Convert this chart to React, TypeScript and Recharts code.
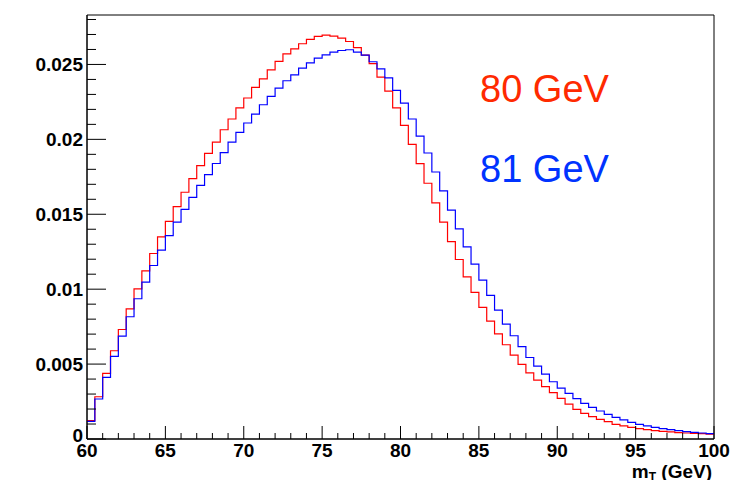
import { LineChart, Line, XAxis, YAxis, ReferenceArea } from 'recharts';

// 80 bins of 0.5 GeV between 60 and 100
const binWidth = 0.5;
const binLow = Array.from({ length: 80 }, (_, i) => 60 + i * binWidth);

const red80 = [
  0.00122, 0.00282, 0.00438, 0.00589, 0.00731, 0.00869, 0.01002, 0.01122, 0.01238, 0.01349,
  0.01453, 0.01551, 0.01647, 0.01738, 0.01824, 0.01906, 0.01982, 0.02064, 0.02136, 0.0221,
  0.02276, 0.02347, 0.02404, 0.02464, 0.0252, 0.02571, 0.02604, 0.02638, 0.02667, 0.02687,
  0.02696, 0.02689, 0.02676, 0.02653, 0.02612, 0.02562, 0.02505, 0.02416, 0.02322, 0.0221,
  0.02093, 0.01967, 0.01838, 0.01707, 0.01576, 0.01447, 0.01318, 0.01198, 0.01082, 0.00978,
  0.00878, 0.00787, 0.00702, 0.00629, 0.0056, 0.00498, 0.00442, 0.00393, 0.00349, 0.0031,
  0.00271, 0.00233, 0.00198, 0.00171, 0.00149, 0.00131, 0.00116, 0.00098, 0.00087, 0.00078,
  0.00069, 0.00062, 0.00056, 0.00051, 0.00047, 0.00042, 0.0004, 0.00038, 0.00036, 0.00033,
];

const blue81 = [
  0.00118, 0.00267, 0.00411, 0.00551, 0.00687, 0.00816, 0.00936, 0.01047, 0.01158, 0.0126,
  0.01358, 0.01447, 0.01533, 0.01613, 0.01693, 0.01765, 0.01839, 0.01911, 0.01982, 0.02046,
  0.02109, 0.02169, 0.02231, 0.02287, 0.02342, 0.02391, 0.02431, 0.02476, 0.02511, 0.02542,
  0.02564, 0.02582, 0.02593, 0.02598, 0.02582, 0.02562, 0.02518, 0.02471, 0.0241, 0.02327,
  0.02242, 0.02136, 0.02022, 0.01909, 0.01782, 0.01656, 0.01527, 0.01402, 0.01282, 0.01167,
  0.0106, 0.00958, 0.0086, 0.00767, 0.00689, 0.00616, 0.00544, 0.00487, 0.00433, 0.00382,
  0.0034, 0.00304, 0.00269, 0.00238, 0.00211, 0.00187, 0.00165, 0.00145, 0.00127, 0.00111,
  0.00098, 0.00087, 0.00078, 0.00069, 0.00062, 0.00056, 0.00049, 0.00044, 0.0004, 0.00036,
];

const xTicks = Array.from({ length: 41 }, (_, i) => 60 + i);
const yTicks = Array.from({ length: 29 }, (_, i) => i * 0.001);
const yMax = 0.0283;

const legend = [
  { label: '80 GeV', color: '#ff2a00' },
  { label: '81 GeV', color: '#0033ff' },
];

const font = '"Liberation Sans", Arial, Helvetica, sans-serif';

// last bin needs a closing point so the step reaches 100
const data = binLow.map((x, i) => ({ x, red: red80[i], blue: blue81[i] }));
data.push({ x: binLow[binLow.length - 1] + binWidth, red: red80[red80.length - 1], blue: blue81[blue81.length - 1] });

function XTick(props: any) {
  const { x, y, payload } = props;
  const v = payload.value;
  const major = v % 5 === 0;
  return (
    <g>
      <line x1={x} x2={x} y1={y} y2={y - (major ? 13 : 6)} stroke="#000" strokeWidth={1} />
      {major && (
        <text x={x} y={y + 18} textAnchor="middle" fontFamily={font} fontWeight="bold" fontSize={19} fill="#000">
          {v}
        </text>
      )}
    </g>
  );
}

function YTick(props: any) {
  const { x, y, payload } = props;
  const n = Math.round(payload.value * 1000);
  const major = n % 5 === 0;
  return (
    <g>
      <line x1={x} x2={x + (major ? 19 : 9)} y1={y} y2={y} stroke="#000" strokeWidth={1} />
      {major && (
        <text x={x - 4} y={y + (n === 0 ? 3 : 7)} textAnchor="end" fontFamily={font} fontWeight="bold" fontSize={19} fill="#000">
          {parseFloat(payload.value.toFixed(3)).toString()}
        </text>
      )}
    </g>
  );
}

export default function App() {
  return (
    <div style={{ position: 'relative', width: 754, height: 480, background: '#fff' }}>
      <style>{'body{margin:0}'}</style>
      <LineChart width={754} height={480} data={data} margin={{ top: 15, right: 40, left: 0, bottom: 11 }}>
        <XAxis
          dataKey="x"
          type="number"
          domain={[60, 100]}
          ticks={xTicks}
          interval={0}
          tickSize={0}
          tickMargin={0}
          tickLine={false}
          tick={<XTick />}
          height={30}
          axisLine={{ stroke: '#000', strokeWidth: 1 }}
          allowDataOverflow
        />
        <YAxis
          type="number"
          domain={[0, yMax]}
          ticks={yTicks}
          interval={0}
          tickSize={0}
          tickMargin={0}
          tickLine={false}
          tick={<YTick />}
          width={87}
          axisLine={{ stroke: '#000', strokeWidth: 1 }}
          allowDataOverflow
        />
        <ReferenceArea x1={60} x2={100} y1={0} y2={yMax} fill="none" stroke="#000" strokeWidth={1} ifOverflow="visible" />
        <Line type="stepAfter" dataKey="red" stroke="#ff0000" strokeWidth={1.2} dot={false} isAnimationActive={false} />
        <Line type="stepAfter" dataKey="blue" stroke="#0000ff" strokeWidth={1.2} dot={false} isAnimationActive={false} />
      </LineChart>
      <svg width={754} height={480} style={{ position: 'absolute', left: 0, top: 0, pointerEvents: 'none' }}>
        {legend.map((l, i) => (
          <text key={l.label} x={480} y={102 + i * 80} fontFamily={font} fontSize={38} fill={l.color}>
            {l.label}
          </text>
        ))}
        <text x={712} y={478} textAnchor="end" fontFamily={font} fontWeight="bold" fontSize={19} fill="#000">
          m<tspan dy={3} fontSize={12}>T</tspan>
          <tspan dy={-3}> (GeV)</tspan>
        </text>
      </svg>
    </div>
  );
}
